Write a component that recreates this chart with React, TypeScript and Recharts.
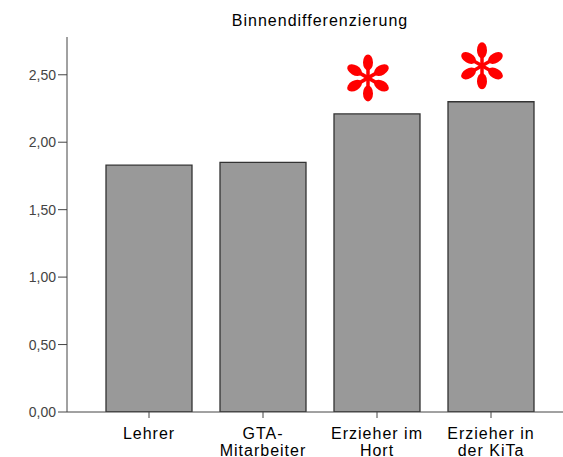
import React from "react";
import { BarChart, Bar, XAxis, YAxis, LabelList } from "recharts";

const categories = ["Lehrer", "GTA-\nMitarbeiter", "Erzieher im\nHort", "Erzieher in\nder KiTa"];
const means = [1.83, 1.85, 2.21, 2.3];
const significant = [false, false, true, true];
const yTicks = [0, 0.5, 1, 1.5, 2, 2.5];
const title = "Binnendifferenzierung";

const data = categories.map((c, i) => ({ name: c, value: means[i], sig: significant[i] ? 1 : 0 }));

const FONT = "'Liberation Sans', Arial, sans-serif";

const XTick = (props: any) => {
  const { x, y, payload } = props;
  const lines = String(payload.value).split("\n");
  return (
    <g>
      {lines.map((l: string, i: number) => (
        <text
          key={i}
          x={x}
          y={y + 19 + i * 16.5}
          textAnchor="middle"
          fontFamily={FONT}
          fontSize={16}
          letterSpacing={1}
          fill="#000"
        >
          {l}
        </text>
      ))}
    </g>
  );
};

const YTick = (props: any) => {
  const { x, y, payload } = props;
  return (
    <text x={x} y={y + 5} textAnchor="end" fontFamily={FONT} fontSize={14} fill="#444">
      {Number(payload.value).toFixed(2).replace(".", ",")}
    </text>
  );
};

const Asterisk = (props: any) => {
  const { x, y, width, value } = props;
  if (!value) return null;
  const cx = x + width / 2 - 9;
  const cy = y - 36;
  const angles = [90, 30, -30, -90, 150, 210];
  return (
    <g fill="#ff0000" stroke="#ff0000">
      {angles.map((a) => {
        return (
          <g key={a} transform={`translate(${cx},${cy}) rotate(${-a})`}>
            <line x1={0} y1={0} x2={12} y2={0} strokeWidth={3.5} />
            <ellipse cx={15.5} cy={0} rx={8} ry={5} stroke="none" />
          </g>
        );
      })}
    </g>
  );
};

export default function App() {
  return (
    <div style={{ position: "absolute", left: 0, top: 0, width: 563, height: 457, overflow: "hidden", background: "#fff" }}>
      <svg width={563} height={40} style={{ position: "absolute", left: 0, top: 0 }}>
        <text x={320} y={26} textAnchor="middle" fontFamily={FONT} fontSize={16} letterSpacing={1} fill="#000">
          {title}
        </text>
      </svg>
      <div style={{ position: "absolute", left: 0, top: 0 }}>
        <BarChart width={580} height={457} data={data} margin={{ top: 37, right: 7, left: 0, bottom: 0 }} barSize={86}>
          <XAxis
            dataKey="name"
            height={45}
            padding={{ left: 25, right: 25 }}
            tick={<XTick />}
            tickSize={6}
            tickLine={{ stroke: "#444" }}
            axisLine={{ stroke: "#444" }}
            interval={0}
          />
          <XAxis xAxisId="top" orientation="top" dataKey="name" height={0} tick={false} tickLine={false} axisLine={{ stroke: "#666" }} />
          <YAxis
            width={67}
            domain={[0, 2.78]}
            ticks={yTicks}
            tick={<YTick />}
            tickSize={9}
            tickLine={{ stroke: "#444" }}
            axisLine={{ stroke: "#444" }}
            allowDataOverflow
          />
          <Bar dataKey="value" fill="#999999" stroke="#333" strokeWidth={1.3} isAnimationActive={false}>
            <LabelList dataKey="sig" content={<Asterisk />} />
          </Bar>
        </BarChart>
      </div>
    </div>
  );
}
